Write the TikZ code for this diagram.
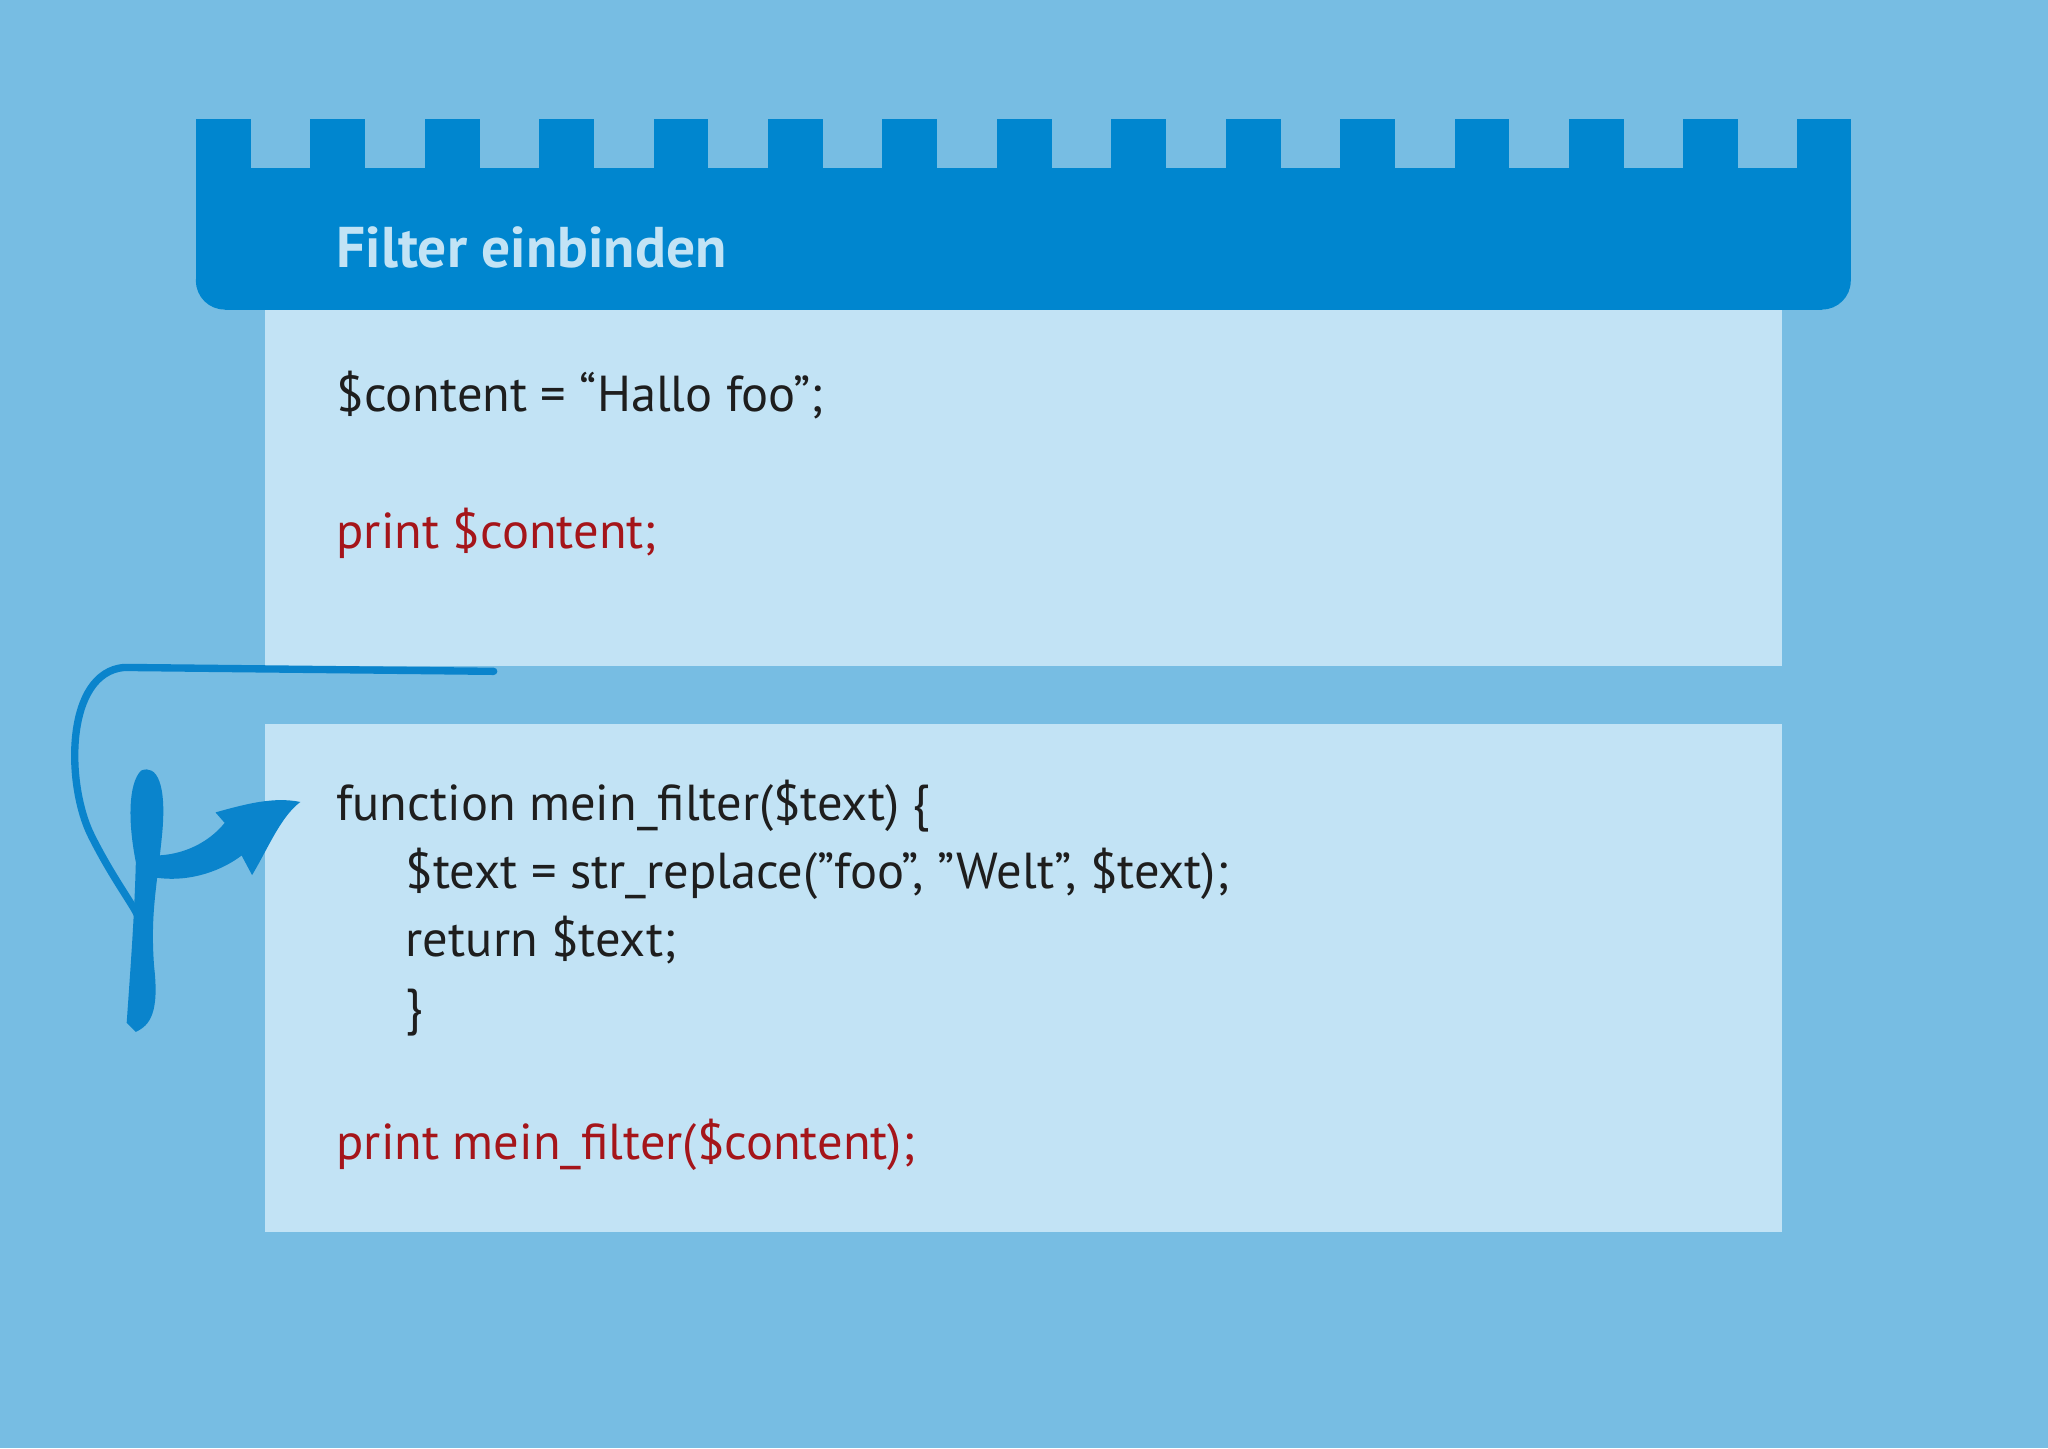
\documentclass[tikz,border=0pt]{standalone}
\usepackage{fontspec}
\setmainfont{PT Sans}
\definecolor{bg}{HTML}{77BDE3}
\definecolor{hdr}{HTML}{0086CF}
\definecolor{panel}{HTML}{C2E3F5}
\definecolor{codered}{HTML}{A5151A}
\definecolor{codeblk}{HTML}{1E1E1E}
\definecolor{brush}{HTML}{0A84CC}
\begin{document}
\begin{tikzpicture}[x=0.01cm,y=-0.01cm,
  code/.style={anchor=base west,inner sep=0pt,font=\fontsize{11}{14}\selectfont,text=codeblk},
  red/.style={code,text=codered},
  ttl/.style={anchor=base west,inner sep=0pt,font=\fontsize{12.5}{15}\selectfont\bfseries,text=panel}]
\fill[bg] (0,0) rectangle (1568,1109);
\useasboundingbox (0,0) rectangle (1568,1109);
% header
\fill[hdr] (150,129) rectangle (1417,215);
\fill[hdr] (172,200) rectangle (1395,237);
\fill[hdr] (172,215) circle[radius=22];
\fill[hdr] (1395,215) circle[radius=22];
\foreach \i in {0,...,13} {\fill[hdr] ({150+87.6*\i},91) rectangle ({192+87.6*\i},130);}
\fill[hdr] (1376,91) rectangle (1417,130);
\node[ttl] (title) at (257,205) {Filter einbinden};
% panels
\fill[panel] (203,237) rectangle (1364,510);
\fill[panel] (203,554) rectangle (1364,943);
\node[code] (l1) at (257,315) {\$content = “Hallo foo”;};
\node[red] (l2) at (257,420) {print \$content;};
\node[code] (m1) at (257,628) {function mein\_filter(\$text) \{};
\node[code] (m2) at (310,680) {\$text = str\_replace(”foo”, ”Welt”, \$text);};
\node[code] (m3) at (310,732) {return \$text;};
\node[code] (m4) at (310,784) {\}};
\node[red] (m5) at (257,888) {print mein\_filter(\$content);};
% hand drawn connector
\coordinate (s) at (378,514);
\coordinate (c1) at (95,511);
\coordinate (c2) at (105,700);
\draw[brush,line width=1.6pt,line cap=round] (s) -- (c1) .. controls (50,515) and (50,600) .. (70,640) .. controls (85,670) and (100,690) .. (c2);
\fill[brush] (108,590) .. controls (120,585) and (128,600) .. (124,640) .. controls (120,680) and (115,700) .. (118,740) .. controls (122,775) and (115,785) .. (104,790) -- (97,783) .. controls (100,740) and (103,700) .. (104,660) .. controls (98,630) and (98,600) .. cycle;
\fill[brush] (118,655) .. controls (140,655) and (160,645) .. (172,630) -- (165,622) .. controls (190,615) and (210,610) .. (230,614) .. controls (215,625) and (205,650) .. (193,670) -- (185,655) .. controls (165,670) and (140,675) .. (120,672) -- cycle;
\end{tikzpicture}
\end{document}
